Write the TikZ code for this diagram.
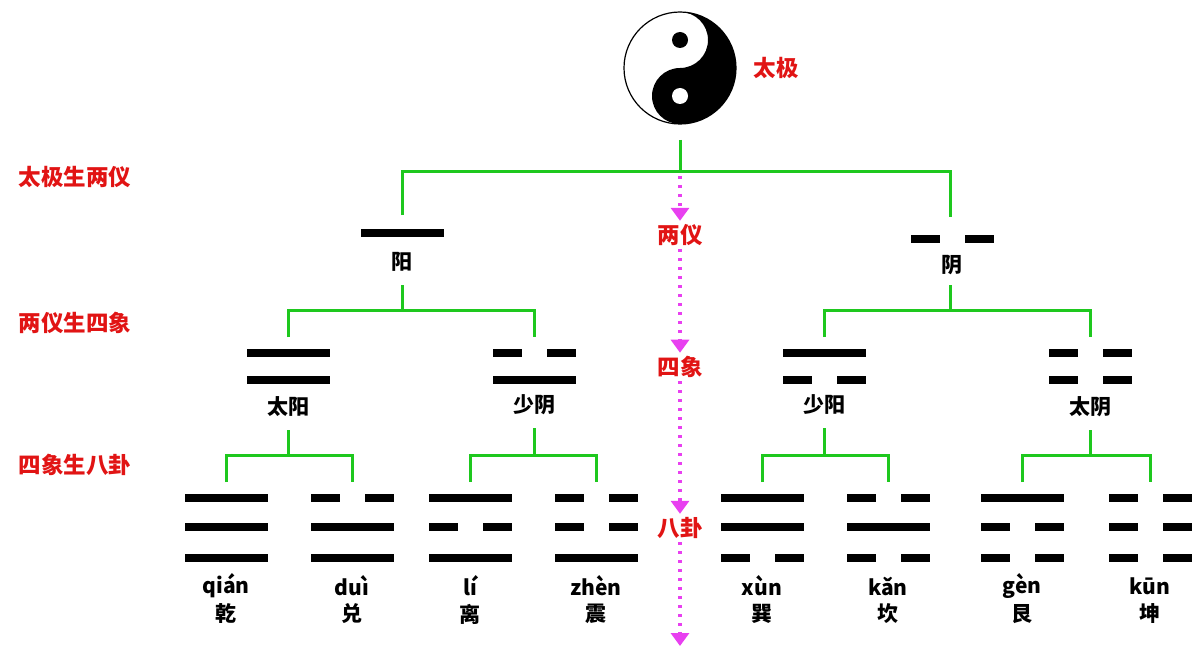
\documentclass[tikz,border=0pt]{standalone}
\usepackage{fontspec}
\setmainfont{Noto Sans CJK SC}
\usetikzlibrary{arrows.meta}
\definecolor{flowmag}{RGB}{232,64,240}
\definecolor{treegreen}{RGB}{30,200,30}
\definecolor{phasered}{RGB}{225,20,20}

% one line of a trigram: #1 = x, #2 = y, #3 = 1 solid / 0 broken
\newcommand{\yao}[3]{%
  \ifnum#3=1
    \fill (#1-41.5,#2-4) rectangle (#1+41.5,#2+4);
  \else
    \fill (#1-41.5,#2-4) rectangle (#1-12.5,#2+4);
    \fill (#1+12.5,#2-4) rectangle (#1+41.5,#2+4);
  \fi}

\begin{document}
\begin{tikzpicture}[x=1pt, y=-1pt,
    tree/.style={draw=treegreen, line width=3pt},
    phase/.style={text=phasered, font=\fontsize{22.5}{22.5}\selectfont\bfseries},
    gua/.style={font=\fontsize{21}{21}\selectfont\bfseries},
    flow/.style={draw=flowmag, line width=4pt, dash pattern=on 3pt off 6pt,
      -{Triangle[width=18pt,length=13pt,fill=flowmag]}}]
        \useasboundingbox (0,0) rectangle (1192,650);

        % Taiji
        \begin{scope}[shift={(680,68)}, x=1pt, y=1pt]
          \fill[white] (0,0) circle (56);
          \fill (0,56) arc (90:-90:56) arc (-90:-270:28) arc (-90:90:28) -- cycle;
          \draw[line width=1.2pt] (0,0) circle (56);
          \fill (0,28) circle (8);
          \fill[white] (0,-28) circle (8);
        \end{scope}
        \node[phase] (taiji) at (776,68) {太极};

        % Row labels
        \node[phase] (r1) at (75,177) {太极生两仪};
        \node[phase] (r2) at (75,323) {两仪生四象};
        \node[phase] (r3) at (75,465) {四象生八卦};

        % Centre labels
        \node[phase] (ly) at (680,235) {两仪};
        \node[phase] (sx) at (680,367) {四象};
        \node[phase] (bg) at (680,528) {八卦};
        \coordinate (top) at (680,176);
        \coordinate (bot) at (680,646);

        % Two forms
        \yao{402}{233}{1}
        \yao{952}{239}{0}
        \node[gua] (yang) at (402,262) {阳};
        \node[gua] (yin)  at (952,265) {阴};

        % Four images
        \yao{288}{353}{1} \yao{288}{380}{1}
        \yao{534}{353}{0} \yao{534}{380}{1}
        \yao{824}{353}{1} \yao{824}{380}{0}
        \yao{1090}{353}{0} \yao{1090}{380}{0}
        \node[gua] (ty1) at (288,407) {太阳};
        \node[gua] (sy1) at (534,405) {少阴};
        \node[gua] (sy2) at (824,405) {少阳};
        \node[gua] (ty2) at (1090,407) {太阴};

        % Eight trigrams
        \foreach \x/\a/\b/\c/\p/\h in {226/1/1/1/qián/乾, 352/0/1/1/duì/兑,
            470/1/0/1/lí/离, 596/0/0/1/zhèn/震, 762/1/1/0/xùn/巽,
            888/0/1/0/kǎn/坎, 1022/1/0/0/gèn/艮, 1150/0/0/0/kūn/坤}{
          \yao{\x}{498}{\a} \yao{\x}{527}{\b} \yao{\x}{558}{\c}
          \node[gua] (py\x) at (\x,586) {\p};
          \node[gua] (hz\x) at (\x,614) {\h};
        }

        % Tree
        \draw[tree] (680,140) -- (680,172) (402,215) |- (950,172) -- (950,217);
        \draw[tree] (402,285) -- (402,310) (288,337) |- (534,310) -- (534,337);
        \draw[tree] (950,285) -- (950,310) (824,337) |- (1090,310) -- (1090,337);
        \draw[tree] (288,430) -- (288,455) (226,482) |- (352,455) -- (352,482);
        \draw[tree] (534,428) -- (534,455) (470,482) |- (596,455) -- (596,482);
        \draw[tree] (824,428) -- (824,455) (762,482) |- (888,455) -- (888,482);
        \draw[tree] (1090,430) -- (1090,455) (1022,482) |- (1150,455) -- (1150,482);

        % Flow
        \draw[flow] (top) -- (ly.north);
        \draw[flow] (ly.south) -- (sx.north);
        \draw[flow] (sx.south) -- (bg.north);
        \draw[flow] (bg.south) -- (bot);
\end{tikzpicture}
\end{document}
